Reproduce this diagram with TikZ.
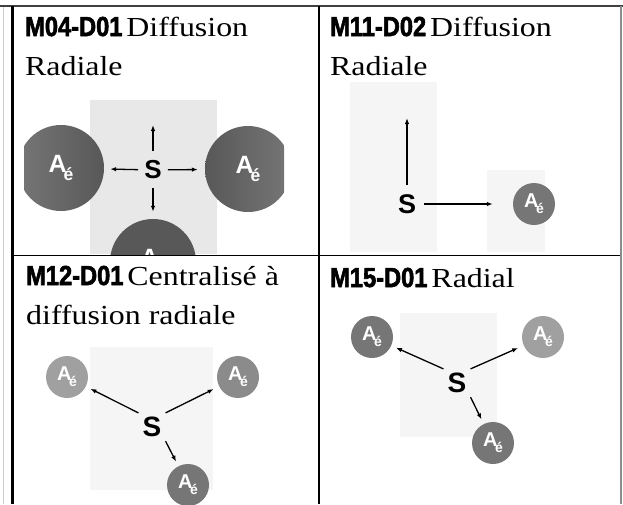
\documentclass[tikz,border=0pt]{standalone}
\usepackage{fontspec}
\usepackage{tikz}
\usetikzlibrary{arrows.meta}
\setmainfont[FakeStretch=1.16]{Liberation Serif}
\newfontfamily\codefont[FakeStretch=0.86,FakeBold=2.2]{Liberation Sans}
\newfontfamily\labelfont{Liberation Sans}
\definecolor{aedark}{RGB}{88,88,88}
\definecolor{aemid}{RGB}{118,118,118}
\definecolor{aelight}{RGB}{160,160,160}
\definecolor{specklegray}{RGB}{232,232,232}
\definecolor{faintgray}{RGB}{245,245,245}
\newcommand{\Ae}{A\kern-0.12em\raisebox{-0.3em}{\scalebox{0.7}{é}}}

\begin{document}
\begin{tikzpicture}[x=1pt,y=-1pt,grid/.style={line width=1.6pt},ttl/.style={anchor=base west,align=left,inner sep=0pt,font=\fontsize{27.5}{39}\selectfont},src/.style={font=\labelfont\bfseries\fontsize{26}{26}\selectfont,inner sep=4pt},ae/.style={circle,inner sep=0pt,text=white,minimum size=42pt,font=\labelfont\bfseries\fontsize{20}{20}\selectfont},big/.style={minimum size=86pt,font=\labelfont\bfseries\fontsize{25}{25}\selectfont},arr/.style={-{Latex[length=6pt,width=4.5pt]},line width=1.3pt}]
\useasboundingbox (0,0) rectangle (623,504);
% table rules
\draw[gray!40,line width=0.6pt](3.5,6)--(3.5,504); \draw[black!75,line width=1.8pt](0,6)--(623,6);
\draw[line width=2.2pt](12.5,6)--(12.5,504); \draw[grid](319,6)--(319,504); \draw[grid](12.5,255.5)--(621,255.5);
\draw[black!45,line width=1.4pt](621,6)--(621,504);
% titles (base = last line)
\node[ttl](t1) at (25,75){{\codefont\bfseries M04-D01}\hspace{4pt}Diffusion\\Radiale};
\node[ttl](t2) at (330,75){{\codefont\bfseries M11-D02}\hspace{4pt}Diffusion\\Radiale};
\node[ttl](t3) at (26,324){{\codefont\bfseries M12-D01}\hspace{4pt}Centralisé à\\diffusion radiale};
\node[ttl](t4) at (330,287){{\codefont\bfseries M15-D01}\hspace{4pt}Radial};
% M04-D01
\fill[specklegray](90,100) rectangle (217,254);
\begin{scope} \clip (24,95) rectangle (284,254.5);
\node[ae,big,left color=aemid,right color=aedark](a1l) at (61,168){\Ae};
\node[ae,big,left color=aedark,right color=aemid](a1r) at (248,169){\Ae};
\node[ae,big,fill=aedark](a1b) at (153,262){\Ae};
\end{scope}
\node[src](s1) at (153,170){S}; \coordinate (u1) at (153,125);
\draw[arr,shorten <=2pt,shorten >=6pt](s1)--(a1l); \draw[arr,shorten <=2pt,shorten >=7pt](s1)--(a1r);
\draw[arr,shorten <=6pt](s1)--(u1); \draw[arr,shorten <=5pt,shorten >=7pt](s1)--(a1b);
% M11-D02
\fill[faintgray](350,82) rectangle (437,252); \fill[faintgray](487,170) rectangle (545,252);
\node[src,font=\labelfont\bfseries\fontsize{27}{27}\selectfont](s2) at (407,204){S}; \coordinate (u2) at (407,118);
\node[ae,fill=aemid](a2) at (534,204){\Ae};
\draw[arr,shorten <=5pt](s2)--(u2); \draw[arr,shorten <=4pt,shorten >=20pt](s2)--(a2);
% M12-D01
\fill[faintgray](90,347) rectangle (213,490);
\node[src,font=\labelfont\bfseries\fontsize{28}{28}\selectfont](s3) at (152,427){S};
\node[ae,fill=aelight](a3a) at (67,377){\Ae}; \node[ae,fill=aemid!85!white](a3b) at (238,377){\Ae}; \node[ae,fill=aemid](a3c) at (188,485){\Ae};
\draw[arr,shorten >=5pt](s3.north west)--(a3a); \draw[arr,shorten >=6pt](s3.north east)--(a3b); \draw[arr,shorten >=5pt](s3.south east)--(a3c);
% M15-D01
\fill[faintgray](400,313) rectangle (497,437);
\node[src,font=\labelfont\bfseries\fontsize{28}{28}\selectfont](s4) at (457,383){S};
\node[ae,fill=aemid](a4a) at (372,337){\Ae}; \node[ae,fill=aelight](a4b) at (543,337){\Ae}; \node[ae,fill=aemid](a4c) at (493,443){\Ae};
\draw[arr,shorten >=5pt](s4.north west)--(a4a); \draw[arr,shorten >=6pt](s4.north east)--(a4b); \draw[arr,shorten >=5pt](s4.south east)--(a4c);
\end{tikzpicture}
\end{document}
